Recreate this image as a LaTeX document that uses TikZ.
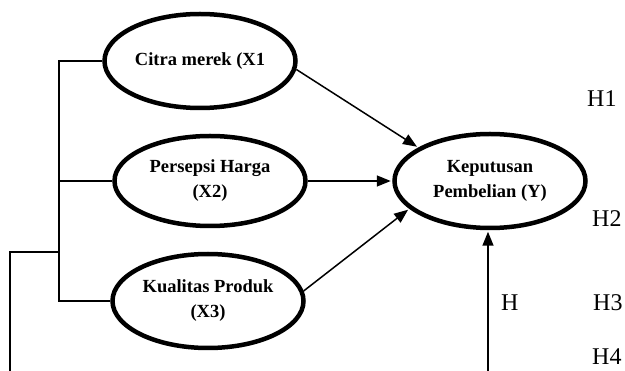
\documentclass[tikz,border=0pt]{standalone}
\usepackage{fontspec}
\setmainfont{Liberation Serif}
\usetikzlibrary{arrows.meta,shapes.geometric}
\tikzset{
  varel/.style={draw,ellipse,line width=4.5pt,minimum width=191pt,minimum height=94pt,
    inner sep=0pt,align=center,font=\fontsize{18.5}{25}\selectfont\bfseries},
  hlabel/.style={font=\fontsize{24}{28}\selectfont,inner sep=0pt,anchor=base west},
  link/.style={line width=1.5pt},
  arrowline/.style={line width=1.5pt,-{Triangle[length=14pt,width=11pt]},shorten >=1.5pt}
}
\begin{document}
\begin{tikzpicture}[x=1pt,y=-1pt]
  \useasboundingbox (0,0) rectangle (625,371);
  % variabel
  \node[varel] (cm) at (200,61) {Citra merek (X1};
  \node[varel,minimum height=90pt] (ph) at (210,181) {Persepsi Harga\\(X2)};
  \node[varel] (kp) at (208,301) {Kualitas Produk\\(X3)};
  \node[varel] (kb) at (490,181) {Keputusan\\Pembelian (Y)};
  % garis kiri
  \coordinate (sp) at (59,252);
  \coordinate (lo) at (10,371);
  \draw[link] (cm.west) -| (sp) |- (kp.west);
  \draw[link] (ph.west) -- (ph.west -| sp);
  \draw[link] (sp) -| (lo);
  % panah
  \draw[arrowline] (cm.-5) -- (kb.155);
  \draw[arrowline] (ph.east) -- (kb.west);
  \draw[arrowline] (kp.6) -- (kb.199);
  \coordinate (ybot) at (488,371);
  \draw[arrowline] (ybot) -- (ybot |- kb.south);
  % hipotesis
  \node[hlabel] (h1) at (587,107) {H1};
  \node[hlabel] (h2) at (592,227) {H2};
  \node[hlabel] (h) at (501,311) {H};
  \node[hlabel] (h3) at (593,311) {H3};
  \node[hlabel] (h4) at (592,365) {H4};
\end{tikzpicture}
\end{document}
